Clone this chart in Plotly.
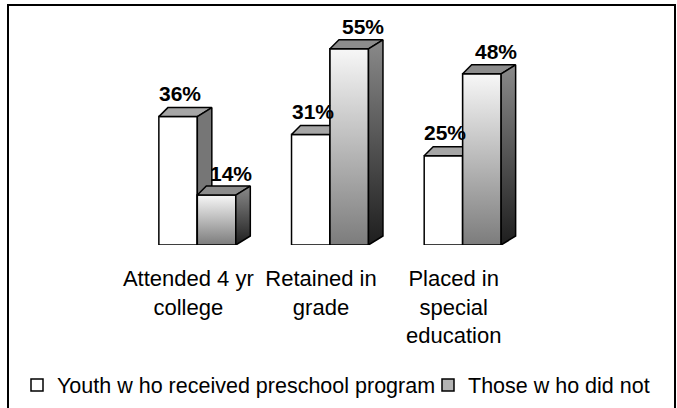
import plotly.graph_objects as go

# ---------------- data ----------------
categories = ["Attended 4 yr<br>college", "Retained in<br>grade", "Placed in<br>special<br>education"]
series_names = ["Youth w ho received preschool program", "Those w ho did not"]
received = [36, 31, 25]
did_not = [14, 55, 48]

# ---------------- layout constants ----------------
W, H = 677, 408
ML, MR, MT, MB = 131, 148, 31, 163
PW, PH = W - ML - MR, H - MT - MB
YMAX = 60
XMIN, XMAX = -0.5, 2.5
BW = 0.29                      # bar width in category units
PX_X = PW / (XMAX - XMIN)      # pixels per x unit
PX_Y = PH / YMAX               # pixels per y unit
DXL, DXR, DY = 9 / PX_X, 14.5 / PX_X, 9 / PX_Y   # 3-D depth offsets (in data units)
FONT = "Arial, Liberation Sans, sans-serif"
EDGE = dict(color="black", width=1.5)


def px_to_paper_x(px):
    return (px - ML) / PW


def px_to_paper_y(py):
    return (MT + PH - py) / PH


fig = go.Figure()

x_idx = list(range(len(categories)))

# front faces as real bars (legend + semantics)
fig.add_trace(go.Bar(x=x_idx, y=received, name=series_names[0], width=BW, offset=-BW,
                     marker=dict(color="white", line=EDGE), hoverinfo="skip",
                     legend="legend"))
fig.add_trace(go.Bar(x=x_idx, y=did_not, name=series_names[1], width=BW, offset=0,
                     marker=dict(color="#b4b4b4", line=EDGE), hoverinfo="skip",
                     legend="legend2"))


def poly(xs, ys, fillcolor=None, grad=None):
    kw = dict(x=xs + [xs[0]], y=ys + [ys[0]], mode="lines", fill="toself",
              line=EDGE, showlegend=False, hoverinfo="skip")
    if grad is not None:
        kw["fillgradient"] = dict(type="vertical", colorscale=grad)
        kw["fillcolor"] = grad[-1][1]
    else:
        kw["fillcolor"] = fillcolor
    fig.add_trace(go.Scatter(**kw))


def faces(xl, xr, v, top_color, side_color=None, side_grad=None):
    # top face
    poly([xl, xl + DXL, xr + DXR, xr], [v, v + DY, v + DY, v], fillcolor=top_color)
    # right side face
    poly([xr, xr + DXR, xr + DXR, xr], [v, v + DY, DY, 0], fillcolor=side_color, grad=side_grad)


for i in x_idx:
    # white (received) bar : top + side
    faces(i - BW, i, received[i], "#a6a6a6", side_color="#767676")
    # gray (did not) bar : gradient front, top, side
    poly([i, i + BW, i + BW, i], [0, 0, did_not[i], did_not[i]],
         grad=[[0, "#7c7c7c"], [1, "#f7f7f7"]])
    faces(i, i + BW, did_not[i], "#8c8c8c", side_grad=[[0, "#1e1e1e"], [1, "#8a8a8a"]])

# value labels
for i in x_idx:
    fig.add_annotation(x=i - BW / 2, y=received[i], text=f"{received[i]}%", showarrow=False,
                       xshift=2, yshift=23, yanchor="middle",
                       font=dict(family=FONT, size=21, color="black", weight="bold"))
    fig.add_annotation(x=i + BW / 2, y=did_not[i], text=f"{did_not[i]}%", showarrow=False,
                       xshift=14, yshift=22, yanchor="middle",
                       font=dict(family=FONT, size=21, color="black", weight="bold"))

# outer frame
fig.add_shape(type="rect", xref="paper", yref="paper",
              x0=px_to_paper_x(8), x1=px_to_paper_x(675),
              y0=px_to_paper_y(411), y1=px_to_paper_y(5),
              line=dict(color="black", width=2), layer="below")

legend_common = dict(orientation="h", xref="paper", yref="paper", xanchor="left",
                     y=px_to_paper_y(385), yanchor="middle",
                     font=dict(family=FONT, size=21.5, color="black"),
                     itemwidth=30, bgcolor="rgba(0,0,0,0)", borderwidth=0)

fig.update_layout(
    width=W, height=H,
    margin=dict(l=ML, r=MR, t=MT, b=MB, autoexpand=False),
    paper_bgcolor="white", plot_bgcolor="white",
    barmode="overlay",
    font=dict(family=FONT, size=22, color="black"),
    xaxis=dict(range=[XMIN, XMAX], tickvals=x_idx, ticktext=categories,
               showgrid=False, zeroline=False, showline=False, ticks="",
               automargin=False,
               ticklabelstandoff=18, ticklabelshift=-9,
               tickfont=dict(family=FONT, size=22, color="black"), fixedrange=True),
    yaxis=dict(range=[0, YMAX], visible=False, fixedrange=True, automargin=False),
    showlegend=True,
    legend=dict(x=px_to_paper_x(17), **legend_common),
    legend2=dict(x=px_to_paper_x(428), **legend_common),
)

fig.write_html("out.html",
               config={"displayModeBar": False},
               post_script="document.body.style.margin='0';document.body.style.padding='0';")
